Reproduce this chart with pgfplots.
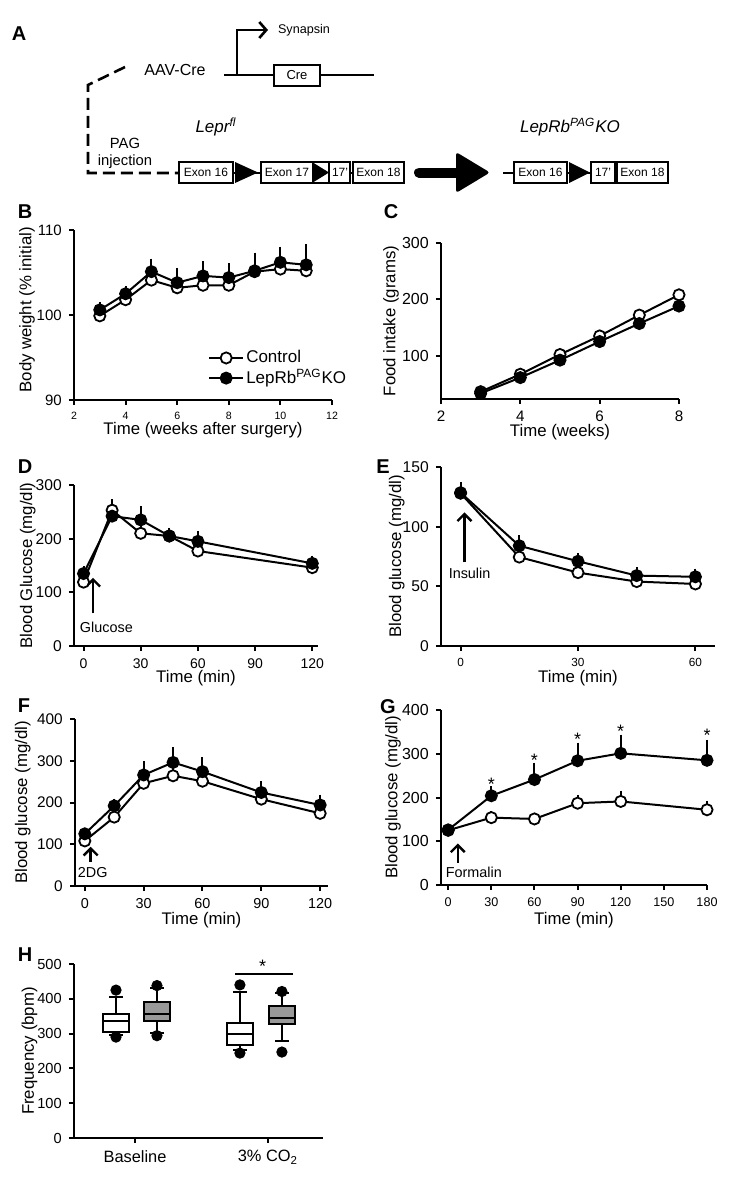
\documentclass[border=0pt]{standalone}
\usepackage{fontspec}
\setmainfont{Liberation Sans}
\usepackage{pgfplots}
\pgfplotsset{compat=1.18}
\usetikzlibrary{arrows.meta}
\newcommand\fs[1]{\fontsize{#1}{#1}\selectfont}
\definecolor{boxgray}{rgb}{0.6,0.6,0.6}
\tikzset{arr/.style={line width=1.2pt, -{Straight Barb[length=3.5pt,width=7pt]}},
  ann/.style={font=\fs{7.2}, inner sep=0pt},
  exon/.style={draw=black, line width=1.2pt, fill=white},
  panelletter/.style={font=\bfseries\fs{10}, inner sep=0pt}}
\pgfplotsset{
 panel/.style={scale only axis, anchor=south west, clip=false,
  axis x line*=bottom, axis y line*=left,
  axis line style={line width=1.1pt, -},
  every tick/.style={black, line width=1pt},
  tick align=outside, major tick length=2.6pt,
  /pgf/number format/assume math mode=true,
  scaled ticks=false,
  every axis y label/.style={at={(axis description cs:-0.18,0.5)}, rotate=90, anchor=center, font=\fs{8.4}},
  every axis x label/.style={at={(axis description cs:0.5,-0.19)}, anchor=center, font=\fs{8.4}},
  yticklabel style={font=\fs{7.5}},
  xticklabel style={font=\fs{7}},
 },
 ctrl/.style={black, line width=1pt, mark=*, mark size=2.8pt, mark options={fill=white, draw=black, line width=0.9pt}},
 ko/.style={black, line width=1pt, mark=*, mark size=2.8pt, mark options={fill=black, draw=black, line width=0.9pt}},
 errs/.style={error bars/y dir=plus, error bars/y explicit, error bars/error bar style={line width=1pt, black}, error bars/error mark options={black, line width=1pt, mark size=2.3pt}},
 whisk/.style={black, line width=1pt, unbounded coords=jump, mark=none},
 boxs/.style={draw=black, line width=1pt, mark=none},
}
\begin{document}
\begin{tikzpicture}
\path[use as bounding box] (0pt,0pt) rectangle (371pt,-591.5pt);

% ---------------- Panel A (schematic) ----------------
\begin{axis}[at={(0pt,-100pt)}, anchor=south west, scale only axis, width=371pt, height=100pt,
  xmin=0, xmax=742, ymin=0, ymax=200, y dir=reverse, hide axis, clip=false]
 \draw[line width=1.3pt] (224,75) -- (374,75);
 \draw[exon] (274,65) rectangle (320,86);
 \node[font=\fs{6.5}] at (297,75.5) {Cre};
 \draw[line width=1.3pt, -{Straight Barb[length=3.5pt,width=8pt]}] (237,75) -- (237,30) -- (268,30);
 \node[anchor=west, font=\fs{6.3}] at (271,30) {Synapsin};
 \node[font=\fs{8}] at (175,70) {AAV-Cre};
 \draw[line width=1.3pt, dash pattern=on 6pt off 3pt] (125,67) -- (88,85) -- (88,173) -- (178,173);
 \node[align=center, font=\fontsize{7.4}{8.6}\selectfont] at (125,153) {PAG\\injection};
 \node[font=\itshape\fs{8.5}] at (216,127) {Lepr\textsuperscript{fl}};
 \node[font=\itshape\fs{8.5}] at (570,127) {LepRb\textsuperscript{PAG}KO};
 \draw[line width=1.3pt] (176,173) -- (352,173);
 \draw[exon] (179,162) rectangle (233,183);
 \node[font=\fs{6}] at (206,172.5) {Exon 16};
 \fill (235,162) -- (258,172.5) -- (235,183) -- cycle;
 \draw[exon] (261,162) rectangle (350,183);
 \node[font=\fs{6}] at (287,172.5) {Exon 17};
 \fill (312,162) -- (329,172.5) -- (312,183) -- cycle;
 \draw[line width=1.2pt] (329,162) -- (329,183);
 \node[font=\fs{6}] at (340,172.5) {17'};
 \draw[exon] (353,162) rectangle (404,183);
 \node[font=\fs{6}] at (378.5,172.5) {Exon 18};
 \draw[line width=5pt, line cap=round] (419,172.5) -- (460,172.5);
 \fill[rounded corners=1.5pt] (456,152) -- (490,172.5) -- (456,193) -- cycle;
 \draw[line width=1.3pt] (503,173) -- (617,173);
 \draw[exon] (514,162) rectangle (567,183);
 \node[font=\fs{6}] at (540.5,172.5) {Exon 16};
 \fill (569,162) -- (590,172.5) -- (569,183) -- cycle;
 \draw[exon] (591,162) rectangle (615,183);
 \node[font=\fs{6}] at (603,172.5) {17'};
 \draw[exon] (617,162) rectangle (668,183);
 \node[font=\fs{6}] at (642.5,172.5) {Exon 18};
\end{axis}

% ---------------- Panel B ----------------
\begin{axis}[panel, at={(37pt,-200pt)}, width=129pt, height=85pt,
  xmin=2, xmax=12, ymin=90, ymax=110, xtick={2,4,6,8,10,12}, ytick={90,100,110},
  xticklabel style={font=\fs{5.3}},
  xlabel={Time (weeks after surgery)}, ylabel={Body weight (\% initial)},
  xlabel style={at={(axis description cs:0.5,-0.176)}},
  ylabel style={at={(axis description cs:-0.182,0.53)}},
  legend style={at={(axis cs:6.95,96.6)}, anchor=north west, draw=none, fill=none, font=\fs{8.5}, row sep=0pt, nodes={inner sep=1pt}},
  legend cell align=left]
 \addplot[ctrl, errs] coordinates {(3,99.9)+-(0,0.3) (4,101.8)+-(0,0.4) (5,104.1)+-(0,0.6) (6,103.2)+-(0,0.6) (7,103.5)+-(0,0.7) (8,103.5)+-(0,0.7) (9,105.1)+-(0,0.9) (10,105.4)+-(0,1.0) (11,105.2)+-(0,1.6)};
 \addlegendentry{Control}
 \addplot[ko, errs] coordinates {(3,100.6)+-(0,0.4) (4,102.5)+-(0,0.4) (5,105.1)+-(0,1.0) (6,103.8)+-(0,1.2) (7,104.6)+-(0,1.2) (8,104.4)+-(0,1.2) (9,105.2)+-(0,1.6) (10,106.2)+-(0,1.3) (11,105.9)+-(0,1.9)};
 \addlegendentry{LepRb\textsuperscript{PAG}KO}
\end{axis}

% ---------------- Panel C ----------------
\begin{axis}[panel, at={(220.5pt,-199.5pt)}, width=119pt, height=78pt,
  xmin=2, xmax=8, ymin=23, ymax=300, xtick={2,4,6,8}, ytick={100,200,300},
  xticklabel style={font=\fs{7.6}}, yticklabel style={font=\fs{8}},
  xlabel={Time (weeks)}, ylabel={Food intake (grams)},
  xlabel style={at={(axis description cs:0.5,-0.215)}},
  ylabel style={at={(axis description cs:-0.21,0.5)}}]
 \addplot[ctrl] coordinates {(3,36) (4,67) (5,102) (6,135) (7,172) (8,208)};
 \addplot[ko] coordinates {(3,33) (4,61) (5,92) (6,125) (7,157) (8,188)};
\end{axis}

% ---------------- Panel D ----------------
\begin{axis}[panel, at={(37pt,-323pt)}, width=122pt, height=80.5pt,
  xmin=-5, xmax=123, ymin=0, ymax=300, xtick={0,30,60,90,120}, ytick={0,100,200,300},
  xticklabel style={font=\fs{7}}, yticklabel style={font=\fs{7.8}},
  xlabel={Time (min)}, ylabel={Blood Glucose (mg/dl)},
  xlabel style={at={(axis description cs:0.5,-0.2)}},
  ylabel style={at={(axis description cs:-0.189,0.5)}}]
 \addplot[ctrl, errs] coordinates {(0,119)+-(0,3) (15,253)+-(0,12) (30,210)+-(0,5) (45,205)+-(0,5) (60,177)+-(0,5) (120,146)+-(0,4)};
 \addplot[ko, errs] coordinates {(0,135)+-(0,5) (15,242)+-(0,8) (30,235)+-(0,17) (45,205)+-(0,7) (60,195)+-(0,11) (120,154)+-(0,6)};
 \draw[arr] (5,61) -- (5,127);
 \node[ann] at (12,35) {Glucose};
\end{axis}

% ---------------- Panel E ----------------
\begin{axis}[panel, at={(220.5pt,-323pt)}, width=137pt, height=89.5pt,
  xmin=-5, xmax=65, ymin=0, ymax=150, xtick={0,30,60}, ytick={0,50,100,150},
  xticklabel style={font=\fs{5.9}}, yticklabel style={font=\fs{7.8}},
  xlabel={Time (min)}, ylabel={Blood glucose (mg/dl)},
  xlabel style={at={(axis description cs:0.5,-0.179)}},
  ylabel style={at={(axis description cs:-0.161,0.5)}}]
 \addplot[ctrl, errs] coordinates {(0,128)+-(0,3) (15,74.5)+-(0,2) (30,61.5)+-(0,2) (45,54)+-(0,2) (60,52)+-(0,2)};
 \addplot[ko, errs] coordinates {(0,128.5)+-(0,5) (15,84)+-(0,5) (30,71)+-(0,3) (45,59)+-(0,3) (60,58)+-(0,3)};
 \draw[arr] (1,70) -- (1,112);
 \node[ann] at (2.3,60.5) {Insulin};
\end{axis}

% ---------------- Panel F ----------------
\begin{axis}[panel, at={(37.5pt,-443pt)}, width=126.5pt, height=83.5pt,
  xmin=-5, xmax=124, ymin=0, ymax=400, xtick={0,30,60,90,120}, ytick={0,100,200,300,400},
  xticklabel style={font=\fs{7.2}}, yticklabel style={font=\fs{7.7}},
  xlabel={Time (min)}, ylabel={Blood glucose (mg/dl)},
  xlabel style={at={(axis description cs:0.5,-0.204)}},
  ylabel style={at={(axis description cs:-0.206,0.5)}}]
 \addplot[ctrl, errs] coordinates {(0,108)+-(0,3) (15,165)+-(0,5) (30,246)+-(0,8) (45,264)+-(0,10) (60,251)+-(0,8) (90,208)+-(0,6) (120,174)+-(0,6)};
 \addplot[ko, errs] coordinates {(0,125)+-(0,4) (15,192)+-(0,6) (30,266)+-(0,22) (45,296)+-(0,25) (60,274)+-(0,23) (90,224)+-(0,16) (120,194)+-(0,14)};
 \draw[arr] (3,58) -- (3,94);
 \node[ann] at (4,33) {2DG};
\end{axis}

% ---------------- Panel G ----------------
\begin{axis}[panel, at={(220.5pt,-442.5pt)}, width=133pt, height=87.5pt,
  xmin=-5, xmax=180, ymin=0, ymax=400, xtick={0,30,60,90,120,150,180}, ytick={0,100,200,300,400},
  xticklabel style={font=\fs{6.3}}, yticklabel style={font=\fs{8}},
  xlabel={Time (min)}, ylabel={Blood glucose (mg/dl)},
  xlabel style={at={(axis description cs:0.5,-0.2)}},
  ylabel style={at={(axis description cs:-0.18,0.5)}}]
 \addplot[ctrl, errs] coordinates {(0,125)+-(0,3) (30,154)+-(0,5) (60,151)+-(0,4) (90,187)+-(0,8) (120,191)+-(0,14) (180,172)+-(0,10)};
 \addplot[ko, errs] coordinates {(0,126)+-(0,4) (30,204)+-(0,11) (60,241)+-(0,28) (90,284)+-(0,31) (120,301)+-(0,32) (180,285)+-(0,37)};
 \node[font=\fs{9}, inner sep=0pt] at (30,230) {*};
 \node[font=\fs{9}, inner sep=0pt] at (60,285) {*};
 \node[font=\fs{9}, inner sep=0pt] at (90,333) {*};
 \node[font=\fs{9}, inner sep=0pt] at (120,352) {*};
 \node[font=\fs{9}, inner sep=0pt] at (180,342) {*};
 \draw[arr] (6.7,51) -- (6.7,95);
 \node[ann] at (17.8,30) {Formalin};
\end{axis}

% ---------------- Panel H ----------------
\begin{axis}[panel, at={(37pt,-569pt)}, width=124.5pt, height=87pt,
  xmin=0.541, xmax=2.414, ymin=0, ymax=500, xtick={1,2}, xticklabels={Baseline, 3\% CO\textsubscript{2}},
  ytick={0,100,200,300,400,500},
  xticklabel style={font=\fs{8.2}}, yticklabel style={font=\fs{7.3}},
  ylabel={Frequency (bpm)},
  ylabel style={at={(axis description cs:-0.179,0.5)}}]
 \addplot[whisk] coordinates {(0.857,297) (0.857,306) (0.857,nan) (0.807,297) (0.907,297) (0.907,nan) (0.857,356) (0.857,406) (0.857,nan) (0.807,406) (0.907,406)};
 \addplot[whisk] coordinates {(1.165,301) (1.165,335) (1.165,nan) (1.115,301) (1.215,301) (1.215,nan) (1.165,392) (1.165,430) (1.165,nan) (1.115,430) (1.215,430)};
 \addplot[whisk] coordinates {(1.789,253) (1.789,268) (1.789,nan) (1.739,253) (1.839,253) (1.839,nan) (1.789,330) (1.789,419) (1.789,nan) (1.739,419) (1.839,419)};
 \addplot[whisk] coordinates {(2.105,279) (2.105,328) (2.105,nan) (2.055,279) (2.155,279) (2.155,nan) (2.105,380) (2.105,416) (2.105,nan) (2.055,416) (2.155,416)};
 \addplot[boxs, fill=white] coordinates {(0.757,306) (0.957,306) (0.957,356) (0.757,356)} -- cycle;
 \addplot[boxs, fill=boxgray] coordinates {(1.065,335) (1.265,335) (1.265,392) (1.065,392)} -- cycle;
 \addplot[boxs, fill=white] coordinates {(1.689,268) (1.889,268) (1.889,330) (1.689,330)} -- cycle;
 \addplot[boxs, fill=boxgray] coordinates {(2.005,328) (2.205,328) (2.205,380) (2.005,380)} -- cycle;
 \addplot[boxs] coordinates {(0.757,337) (0.957,337)};
 \addplot[boxs] coordinates {(1.065,357) (1.265,357)};
 \addplot[boxs] coordinates {(1.689,298) (1.889,298)};
 \addplot[boxs] coordinates {(2.005,346) (2.205,346)};
 \addplot[only marks, mark=*, mark size=2.6pt, black] coordinates {(0.857,425) (0.857,290) (1.165,438) (1.165,294) (1.789,440) (1.789,244) (2.105,421) (2.105,247)};
 \draw[line width=1pt] (1.752,470) -- (2.188,470);
 \node[font=\fs{9}, inner sep=0pt] at (1.96,492) {*};
\end{axis}

% panel letters
\node[panelletter] at (9.5pt,-17pt) {A};
\node[panelletter] at (12.5pt,-106pt) {B};
\node[panelletter] at (195.5pt,-106pt) {C};
\node[panelletter] at (12.5pt,-233.5pt) {D};
\node[panelletter] at (191.5pt,-233.5pt) {E};
\node[panelletter] at (12pt,-353pt) {F};
\node[panelletter] at (194pt,-353.5pt) {G};
\node[panelletter] at (12.5pt,-477.5pt) {H};
\end{tikzpicture}
\end{document}
